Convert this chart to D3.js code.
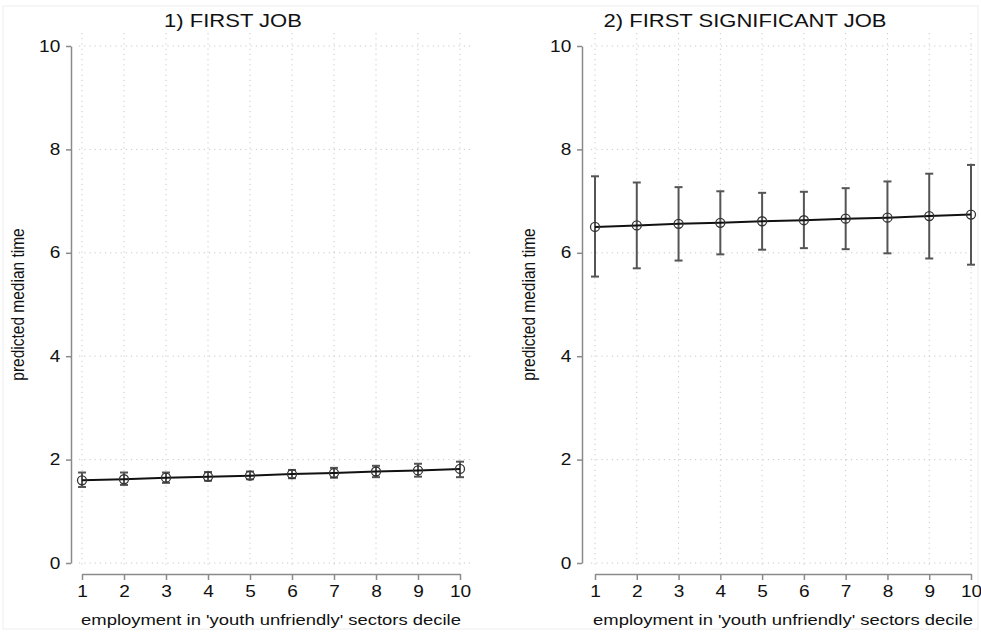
<!DOCTYPE html>
<html>
<head>
<meta charset="utf-8">
<script src="https://cdn.jsdelivr.net/npm/d3@7"></script>
<style>
  body { margin: 0; background: #fff; }
  svg { font-family: "Liberation Sans", Arial, sans-serif; }
</style>
</head>
<body>
<script>
var w = 981;
var h = 632;
var sx = 1.19; // the original picture is stretched sideways, so is its text

// data
var deciles = [1, 2, 3, 4, 5, 6, 7, 8, 9, 10];
var yTicks = [0, 2, 4, 6, 8, 10];

var firstMedian = [1.60, 1.62, 1.65, 1.67, 1.69, 1.72, 1.74, 1.77, 1.79, 1.82];
var firstLower  = [1.47, 1.51, 1.55, 1.59, 1.62, 1.64, 1.65, 1.66, 1.67, 1.66];
var firstUpper  = [1.75, 1.75, 1.75, 1.76, 1.77, 1.80, 1.84, 1.88, 1.92, 1.96];

var sigMedian = [6.50, 6.53, 6.56, 6.58, 6.61, 6.63, 6.66, 6.68, 6.71, 6.74];
var sigLower  = [5.54, 5.70, 5.85, 5.97, 6.06, 6.09, 6.07, 5.99, 5.89, 5.77];
var sigUpper  = [7.48, 7.36, 7.27, 7.19, 7.16, 7.18, 7.25, 7.38, 7.53, 7.70];

var xTitle = "employment in 'youth unfriendly' sectors decile";
var yTitle = "predicted median time";

var svg = d3.select("body")
    .append("svg")
    .attr("width", w)
    .attr("height", h);

// faint frame round the picture
svg.append("rect")
    .attr("x", 3).attr("y", 6)
    .attr("width", w - 6).attr("height", h - 9)
    .attr("fill", "none")
    .attr("stroke", "#eee")
    .attr("stroke-width", 1);

function panel(title, med, lo, hi, o) {
    var x = d3.scaleLinear().domain([1, 10]).range([o.x0, o.x1]);
    var y = d3.scaleLinear().domain([0, 10]).range([563, 46]);
    var g = svg.append("g");

    // dotted grid
    g.selectAll(".hg").data(yTicks).enter().append("line")
        .attr("x1", o.gx0).attr("x2", o.gx1)
        .attr("y1", function(d) { return y(d); })
        .attr("y2", function(d) { return y(d); })
        .attr("stroke", "#c8c8c8")
        .attr("stroke-dasharray", "1.2,4");
    g.selectAll(".vg").data(deciles).enter().append("line")
        .attr("y1", 33).attr("y2", 568)
        .attr("x1", function(d) { return x(d); })
        .attr("x2", function(d) { return x(d); })
        .attr("stroke", "#c8c8c8")
        .attr("stroke-dasharray", "1.2,4");

    // axes
    var yAxis = d3.axisLeft(y).tickValues(yTicks).tickSize(5).tickSizeOuter(0).tickPadding(4);
    var ya = g.append("g")
        .attr("transform", "translate(" + o.ax + ",0)")
        .call(yAxis);
    var xAxis = d3.axisBottom(x).tickValues(deciles).tickSize(6).tickSizeOuter(0).tickPadding(6);
    var xa = g.append("g")
        .attr("transform", "translate(0,574)")
        .call(xAxis);
    [ya, xa].forEach(function(a) {
        a.select(".domain").attr("stroke", "#8a8a8a").attr("stroke-width", 1.5);
        a.selectAll(".tick line").attr("stroke", "#8a8a8a").attr("stroke-width", 1.5);
        a.selectAll(".tick text")
            .attr("fill", "#111")
            .attr("transform", "scale(" + sx + ",1)")
            .style("font-size", "16px")
            .style("font-family", "Liberation Sans, Arial, sans-serif");
    });

    // titles
    g.append("text")
        .attr("transform", "translate(" + o.tx + ",27) scale(" + sx + ",1)")
        .attr("text-anchor", "middle")
        .style("font-size", "18.5px")
        .attr("fill", "#111")
        .text(title);
    g.append("text")
        .attr("transform", "translate(" + (o.x0 + o.x1) / 2 + ",625) scale(" + sx + ",1)")
        .attr("text-anchor", "middle")
        .style("font-size", "15.5px")
        .attr("fill", "#111")
        .text(xTitle);
    g.append("text")
        .attr("transform", "translate(" + o.yt + "," + y(5) + ") scale(" + sx + ",1) rotate(-90)")
        .attr("text-anchor", "middle")
        .style("font-size", "15.5px")
        .attr("fill", "#111")
        .text(yTitle);

    // error bars
    var cap = 4;
    g.selectAll(".eb").data(deciles).enter().append("line")
        .attr("x1", function(d) { return x(d); })
        .attr("x2", function(d) { return x(d); })
        .attr("y1", function(d, i) { return y(lo[i]); })
        .attr("y2", function(d, i) { return y(hi[i]); })
        .attr("stroke", "#555").attr("stroke-width", 2);
    [lo, hi].forEach(function(arr) {
        g.selectAll(null).data(deciles).enter().append("line")
            .attr("x1", function(d) { return x(d) - cap; })
            .attr("x2", function(d) { return x(d) + cap; })
            .attr("y1", function(d, i) { return y(arr[i]); })
            .attr("y2", function(d, i) { return y(arr[i]); })
            .attr("stroke", "#555").attr("stroke-width", 2);
    });

    // line
    var lineFun = d3.line()
        .x(function(d, i) { return x(deciles[i]); })
        .y(function(d) { return y(d); })
        .curve(d3.curveLinear);
    g.append("path")
        .attr("d", lineFun(med))
        .attr("stroke", "#111")
        .attr("stroke-width", 2)
        .attr("fill", "none");

    // points
    g.selectAll(".pt").data(deciles).enter().append("circle")
        .attr("cx", function(d) { return x(d); })
        .attr("cy", function(d, i) { return y(med[i]); })
        .attr("r", 4.5)
        .attr("fill", "none")
        .attr("stroke", "#333")
        .attr("stroke-width", 1.3);
}

panel("1) FIRST JOB", firstMedian, firstLower, firstUpper,
    {x0: 82, x1: 460, ax: 71, gx0: 79, gx1: 472, tx: 233, yt: 24});
panel("2) FIRST SIGNIFICANT JOB", sigMedian, sigLower, sigUpper,
    {x0: 595, x1: 971, ax: 582, gx0: 591, gx1: 976, tx: 745, yt: 535});
</script>
</body>
</html>
